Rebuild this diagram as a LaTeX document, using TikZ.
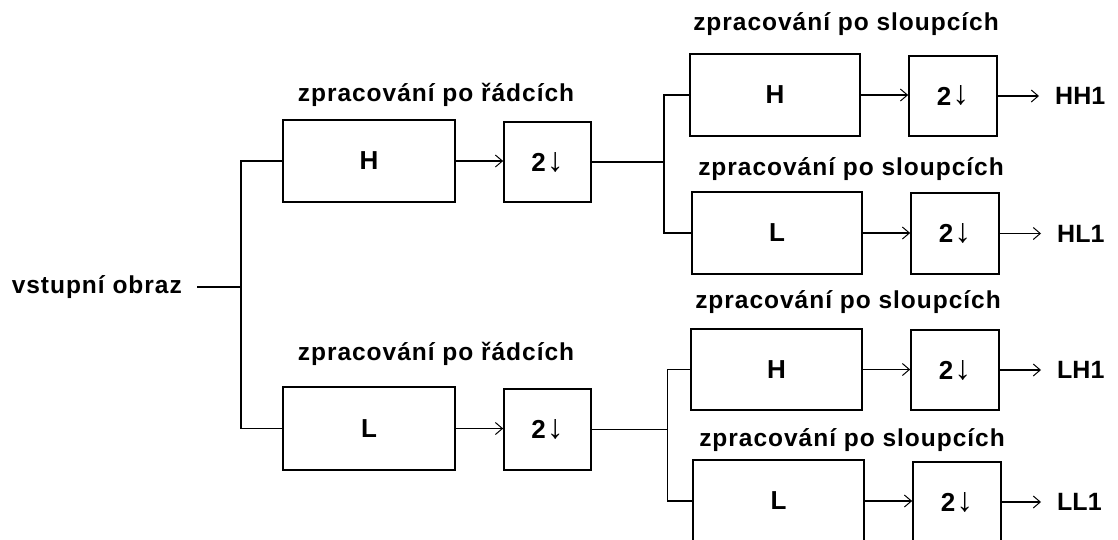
\documentclass[tikz,border=0pt]{standalone}
\usepackage{graphicx}
\usepackage{fontspec}
\setmainfont{Liberation Sans}
\newfontfamily\ttlfont{Liberation Sans}[LetterSpace=4]
\usetikzlibrary{arrows.meta}
\begin{document}
\begin{tikzpicture}[x=1pt,y=-1pt,
  box/.style={draw, line width=1.7pt, inner sep=0pt, font=\bfseries\fontsize{26}{30}\selectfont},
  ttl/.style={anchor=base, inner sep=0pt, font=\ttlfont\bfseries\fontsize{24.5}{30}\selectfont},
  outl/.style={anchor=west, inner xsep=16pt, inner ysep=0pt, font=\bfseries\fontsize{25}{30}\selectfont},
  wire/.style={line width=1.5pt},
  arr/.style={line width=1.2pt, -{Straight Barb[length=7pt,width=12pt,line width=1pt]}}]
\useasboundingbox (0,0) rectangle (1118,539);
\newcommand{\dn}{2\hspace{1pt}\raisebox{-1pt}{\raisebox{\depth}{\resizebox*{!}{20pt}{\mdseries ↓}}}}
% input
\node[anchor=base east, inner sep=0pt, font=\ttlfont\bfseries\fontsize{24.5}{30}\selectfont] (in) at (182,293) {vstupní obraz};
\coordinate (ins) at (197,287);
\coordinate (tr) at (241,287);
% row stage
\node[ttl] (t1) at (436,101) {zpracování po řádcích};
\node[ttl] (t2) at (436,360) {zpracování po řádcích};
\node[box, minimum width=172pt, minimum height=82pt] (rH) at (369,161) {H};
\node[box, minimum width=87pt, minimum height=80pt] (rHd) at (547.5,162) {\dn};
\node[box, minimum width=172pt, minimum height=83pt] (rL) at (369,428.5) {\raisebox{-8pt}{L}};
\node[box, minimum width=87pt, minimum height=81pt] (rLd) at (547.5,429.5) {\dn};
% column stage
\node[ttl] (t3) at (846,30) {zpracování po sloupcích};
\node[ttl] (t4) at (851,175) {zpracování po sloupcích};
\node[ttl] (t5) at (848,308) {zpracování po sloupcích};
\node[ttl] (t6) at (852,446.7) {zpracování po sloupcích};
\node[box, minimum width=170pt, minimum height=82pt] (HH) at (775,95) {H};
\node[box, minimum width=88pt, minimum height=80pt] (HHd) at (953,96) {\dn};
\node[box, minimum width=170pt, minimum height=82pt] (HL) at (777,233) {\raisebox{-14pt}{L}};
\node[box, minimum width=88pt, minimum height=81pt] (HLd) at (955,233.5) {\dn};
\node[box, minimum width=171pt, minimum height=81pt] (LH) at (776.5,369.5) {H};
\node[box, minimum width=88pt, minimum height=80pt] (LHd) at (955,370) {\dn};
\node[box, minimum width=171pt, minimum height=82pt] (LL) at (778.5,501) {\raisebox{-12pt}{L}};
\node[box, minimum width=88pt, minimum height=80pt] (LLd) at (957,502) {\dn};
% outputs
\node[outl] (oHH) at (1039,96) {HH1};
\node[outl] (oHL) at (1041,233.5) {HL1};
\node[outl] (oLH) at (1041,370) {LH1};
\node[outl] (oLL) at (1041,502) {LL1};
% wires
\draw[wire] (ins) -- (tr);
\draw[wire] (rH.west) -| (tr) |- (rL.west);
\coordinate (b1) at (664,162);
\coordinate (b2) at (667.7,429.5);
\draw[wire] (rHd.east) -- (b1);
\draw[wire] (HH.west) -| (b1) |- (HL.west);
\draw[wire] (rLd.east) -- (b2);
\draw[wire] (LH.west) -| (b2) |- (LL.west);
% arrows
\draw[arr] (rH.east) -- (rH.east -| rHd.west);
\draw[arr] (rL.east) -- (rL.east -| rLd.west);
\draw[arr] (HH.east) -- (HH.east -| HHd.west);
\draw[arr] (HL.east) -- (HL.east -| HLd.west);
\draw[arr] (LH.east) -- (LH.east -| LHd.west);
\draw[arr] (LL.east) -- (LL.east -| LLd.west);
\draw[arr] (HHd.east) -- (oHH.west);
\draw[arr] (HLd.east) -- (oHL.west);
\draw[arr] (LHd.east) -- (oLH.west);
\draw[arr] (LLd.east) -- (oLL.west);
\end{tikzpicture}
\end{document}
